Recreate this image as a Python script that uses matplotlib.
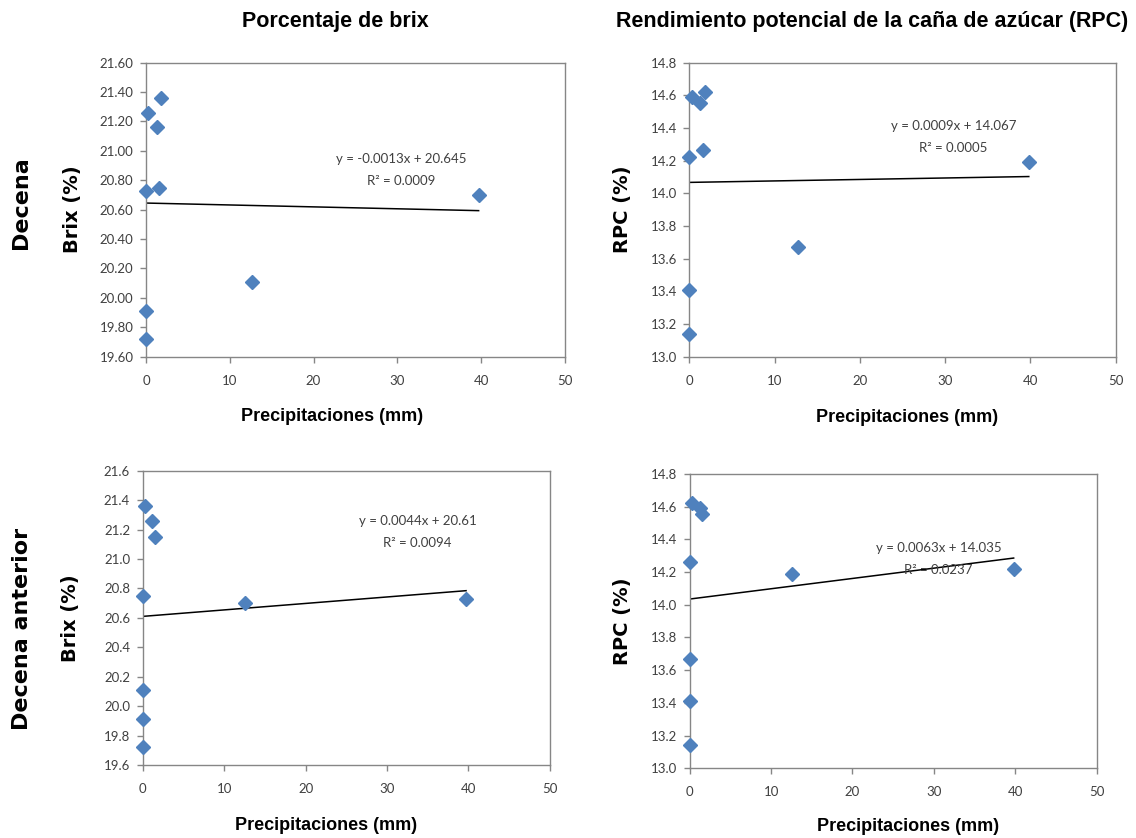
import numpy as np
import matplotlib
matplotlib.use("Agg")
import matplotlib.pyplot as plt

# precipitation of the same ten-day period (top row)
precip_decena = [0.3, 1.8, 1.3, 0.0, 1.6, 39.7, 12.7, 0.0, 0.0]
brix_decena = [21.26, 21.36, 21.16, 20.73, 20.75, 20.70, 20.11, 19.91, 19.72]
precip_decena_rpc = [0.3, 1.2, 1.8, 0.0, 1.6, 39.8, 12.7, 0.0, 0.0]
rpc_decena = [14.59, 14.555, 14.62, 14.22, 14.265, 14.19, 13.67, 13.41, 13.14]

# precipitation of the previous ten-day period (bottom row)
precip_anterior = [0.3, 1.2, 1.5, 0.0, 12.6, 39.7, 0.0, 0.0, 0.0]
brix_anterior = [21.36, 21.26, 21.15, 20.75, 20.70, 20.73, 20.11, 19.91, 19.72]
precip_anterior_rpc = [0.25, 1.3, 1.5, 0.0, 12.6, 39.8, 0.0, 0.0, 0.0]
rpc_anterior = [14.625, 14.59, 14.555, 14.26, 14.19, 14.22, 13.67, 13.41, 13.14]

# trend lines as printed on the chart: slope, intercept, r2
trend_slopes = [-0.0013, 0.0009, 0.0044, 0.0063]
trend_intercepts = [20.645, 14.067, 20.61, 14.035]
trend_r2 = ["0.0009", "0.0005", "0.0094", "0.0237"]

col_titles = ["Porcentaje de brix", "Rendimiento potencial de la caña de azúcar (RPC)"]
row_titles = ["Decena", "Decena anterior"]
y_labels = ["Brix (%)", "RPC (%)", "Brix (%)", "RPC (%)"]
x_label = "Precipitaciones (mm)"

blue = "#4F81BD"
tick_col = "#404040"
spine_col = "#868686"
arial = ["Liberation Sans", "DejaVu Sans"]
calib = ["Lato", "DejaVu Sans"]

fig = plt.figure(figsize=(11.36, 8.38), dpi=100)

# axes boxes in figure fractions
boxes = [
    [0.1285, 0.5744, 0.3688, 0.3508],
    [0.6068, 0.5744, 0.3754, 0.3508],
    [0.1256, 0.0871, 0.3585, 0.3512],
    [0.6071, 0.0832, 0.3583, 0.3512],
]
xs = [precip_decena, precip_decena_rpc, precip_anterior, precip_anterior_rpc]
ys = [brix_decena, rpc_decena, brix_anterior, rpc_anterior]
ylims = [(19.6, 21.6), (13.0, 14.8), (19.6, 21.6), (13.0, 14.8)]
yfmts = ["{:.2f}", "{:.1f}", "{:.1f}", "{:.1f}"]
eq_pos = [(0.61, 0.671, 0.598), (0.619, 0.785, 0.711),
          (0.675, 0.830, 0.754), (0.611, 0.748, 0.674)]
ylab_x = [-0.153, -0.135, -0.154, -0.1425]
xlab_pos = [(0.445, -0.176), (0.51, -0.178), (0.45, -0.178), (0.536, -0.170)]

for i in range(4):
    ax = fig.add_axes(boxes[i])
    x = np.array(xs[i])
    y = np.array(ys[i])
    ax.plot(x, y, linestyle="none", marker="D", markersize=7,
            color=blue, markeredgecolor=blue, zorder=3, clip_on=False)
    xl = np.array([x.min(), x.max()])
    ax.plot(xl, trend_intercepts[i] + trend_slopes[i] * xl, color="black",
            linewidth=1.1, zorder=2)

    ax.set_xlim(0, 50)
    ax.set_ylim(*ylims[i])
    ax.set_xticks(np.arange(0, 51, 10))
    yt = np.arange(ylims[i][0], ylims[i][1] + 0.001, 0.2)
    ax.set_yticks(yt)
    ax.set_yticklabels([yfmts[i].format(v) for v in yt])
    for s in ax.spines.values():
        s.set_color(spine_col)
        s.set_linewidth(1.0)
    ax.tick_params(axis="both", colors=spine_col, labelcolor=tick_col,
                   length=4, width=1.0, direction="out", labelsize=9.5)
    ax.tick_params(axis="x", pad=9)
    ax.tick_params(axis="y", pad=5)
    for lab in ax.get_xticklabels() + ax.get_yticklabels():
        lab.set_family(calib)

    sign = "-" if trend_slopes[i] < 0 else ""
    eq = "y = %s%.4fx + %g" % (sign, abs(trend_slopes[i]), trend_intercepts[i])
    ex, ey1, ey2 = eq_pos[i]
    ax.text(ex, ey1, eq, transform=ax.transAxes, ha="center", va="center",
            fontsize=9.5, color=tick_col, family=calib)
    ax.text(ex, ey2, "R\u00b2 = " + trend_r2[i], transform=ax.transAxes,
            ha="center", va="center", fontsize=9.5, color=tick_col, family=calib)

    ax.set_ylabel(y_labels[i], fontsize=14, fontweight="bold", family="DejaVu Sans")
    ax.yaxis.set_label_coords(ylab_x[i], 0.5)
    ax.set_xlabel(x_label, fontsize=13, fontweight="bold", family=arial)
    ax.xaxis.set_label_coords(*xlab_pos[i])

fig.text(335 / 1136, 1 - 21 / 838, col_titles[0], ha="center", va="center",
         fontsize=15.5, fontweight="bold", family=arial)
fig.text(872 / 1136, 1 - 21 / 838, col_titles[1], ha="center", va="center",
         fontsize=15.5, fontweight="bold", family=arial)
fig.text(21 / 1136, 1 - 203 / 838, row_titles[0], ha="center", va="center",
         rotation=90, fontsize=16, fontweight="bold", family="DejaVu Sans")
fig.text(22 / 1136, 1 - 629 / 838, row_titles[1], ha="center", va="center",
         rotation=90, fontsize=16, fontweight="bold", family="DejaVu Sans")

fig.savefig("out.png", dpi=100, facecolor="white")
